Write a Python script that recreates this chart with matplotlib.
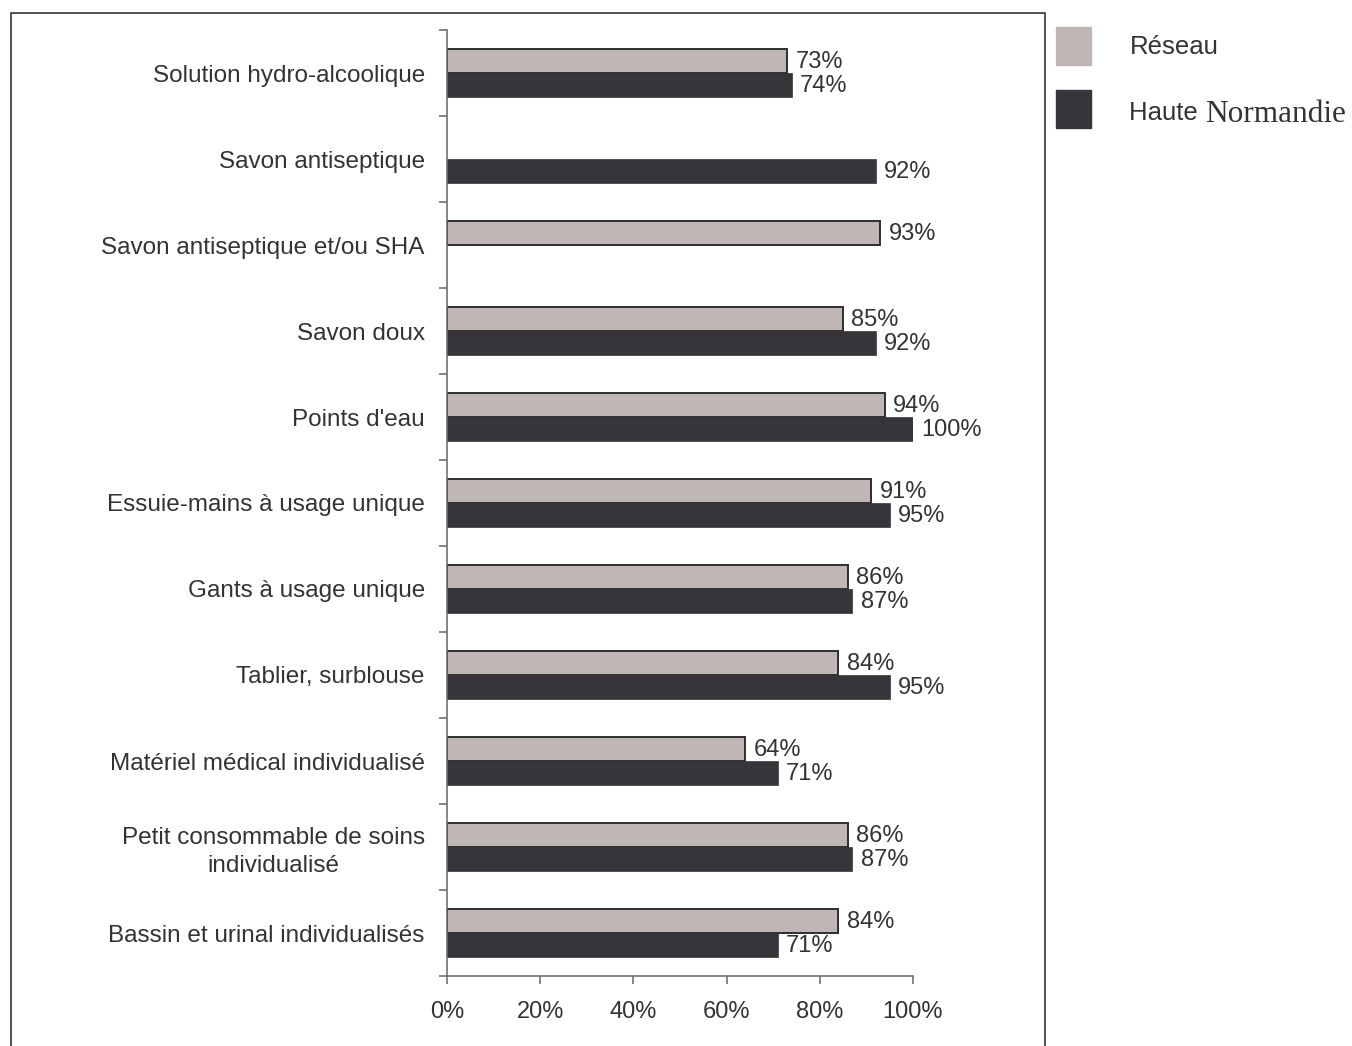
import numpy as np
import matplotlib
matplotlib.use("Agg")
import matplotlib.pyplot as plt
from matplotlib.lines import Line2D
from matplotlib.patches import Rectangle

plt.rcParams['font.family'] = ['Liberation Sans', 'DejaVu Sans']

categories = [
    "Solution hydro-alcoolique",
    "Savon antiseptique",
    "Savon antiseptique et/ou SHA",
    "Savon doux",
    "Points d'eau",
    "Essuie-mains à usage unique",
    "Gants à usage unique",
    "Tablier, surblouse",
    "Matériel médical individualisé",
    "Petit consommable de soins\nindividualisé",
    "Bassin et urinal individualisés",
]
reseau = [73, None, 93, 85, 94, 91, 86, 84, 64, 86, 84]
haute_normandie = [74, 92, None, 92, 100, 95, 87, 95, 71, 87, 71]
series_names = ["Réseau", "Haute Normandie"]
xticks = [0, 20, 40, 60, 80, 100]

c_reseau = "#c0b6b3"
c_hn = "#37353a"
c_text = "#333333"
c_axis = "#666666"

W, H = 1352, 1046
fig = plt.figure(figsize=(W / 100, H / 100), dpi=100)
ax = fig.add_axes([447 / W, 1 - 976 / H, (913 - 447) / W, (976 - 30) / H])

y = np.arange(len(categories))
bh = 0.28

for i, v in enumerate(reseau):
    if v is None:
        continue
    ax.barh(y[i] - bh / 2, v, height=bh, color=c_reseau, edgecolor="#2e2d30",
            linewidth=1.4)
    ax.annotate(f"{v}%", (v, y[i] - bh / 2), xytext=(6, -0.5), textcoords="offset points",
                ha="left", va="center", fontsize=17, color=c_text)

for i, v in enumerate(haute_normandie):
    if v is None:
        continue
    ax.barh(y[i] + bh / 2, v, height=bh, color=c_hn, edgecolor=c_hn, linewidth=0.5)
    ax.annotate(f"{v}%", (v, y[i] + bh / 2), xytext=(6, -0.5), textcoords="offset points",
                ha="left", va="center", fontsize=17, color=c_text)

ax.set_xlim(0, 100)
ax.set_ylim(len(categories) - 0.5, -0.5)
ax.set_xticks(xticks)
ax.set_xticklabels([f"{t}%" for t in xticks])
ax.set_yticks(y)
ax.set_yticklabels(categories)
ax.set_yticks(np.arange(-0.5, len(categories), 1.0), minor=True)

for lbl in ax.get_yticklabels():
    lbl.set_multialignment("center")
    lbl.set_linespacing(1.35)

ax.tick_params(axis="y", which="major", length=0, pad=16, labelsize=17.5,
               labelcolor=c_text)
ax.tick_params(axis="y", which="minor", length=6, width=1.1, color=c_axis, direction="out")
ax.tick_params(axis="x", length=6, width=1.1, color=c_axis, direction="out",
               pad=12, labelsize=17, labelcolor=c_text)

for s in ["top", "right"]:
    ax.spines[s].set_visible(False)
for s in ["left", "bottom"]:
    ax.spines[s].set_color(c_axis)
    ax.spines[s].set_linewidth(1.1)

# outer frame, open at the bottom
fx = [11 / W, 11 / W, 1045 / W, 1045 / W]
fy = [0, 1 - 13 / H, 1 - 13 / H, 0]
fig.add_artist(Line2D(fx, fy, color="#333333", linewidth=1.2, transform=fig.transFigure))

# legend
sq_w, sq_h = 35 / W, 38 / H
fig.add_artist(Rectangle((1056 / W, 1 - 65 / H), sq_w, sq_h, color=c_reseau,
                         transform=fig.transFigure))
fig.add_artist(Rectangle((1056 / W, 1 - 128 / H), sq_w, sq_h, color=c_hn,
                         transform=fig.transFigure))
fig.text(1130 / W, 1 - 47 / H, series_names[0], fontsize=18.5, color=c_text,
         ha="left", va="center")
first, second = series_names[1].split(" ")
t1 = fig.text(1129 / W, 1 - 111 / H, first + " ", fontsize=18.5, color=c_text,
              ha="left", va="center_baseline")
fig.canvas.draw()
bb = t1.get_window_extent()
fig.text(bb.x1 / W, 1 - 111 / H, second, fontsize=22.5, color=c_text,
         family="Liberation Serif", ha="left", va="center_baseline")

fig.savefig("out.png", dpi=100)
